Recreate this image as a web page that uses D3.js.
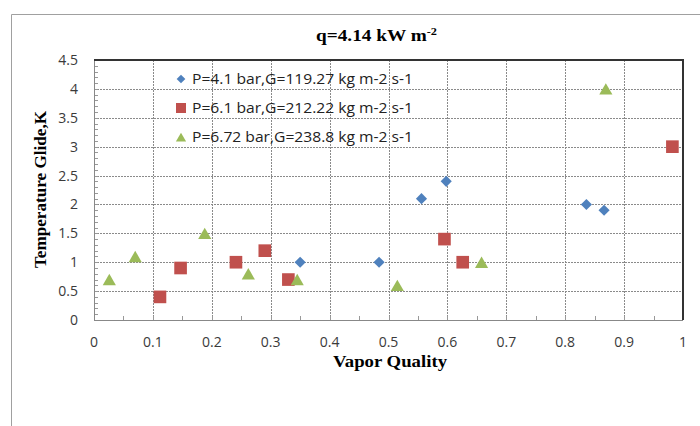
<!DOCTYPE html>
<meta charset="utf-8">
<html>
<head>
<script src="https://cdnjs.cloudflare.com/ajax/libs/d3/7.8.5/d3.min.js"></script>
<style>
  body { margin: 0; background: #fff; }
  text { font-family: "Open Sans", "Liberation Sans", sans-serif; }
  .serif { font-family: "Liberation Serif", "DejaVu Serif", serif; font-weight: bold; }
</style>
</head>
<body>
<div id="chart"></div>
<script>
// series data
var seriesNames = ["P=4.1 bar,G=119.27 kg m-2 s-1", "P=6.1 bar,G=212.22 kg m-2 s-1", "P=6.72 bar,G=238.8 kg m-2 s-1"];
var blueX = [0.35, 0.484, 0.556, 0.598, 0.836, 0.866];
var blueY = [1.0, 1.0, 2.1, 2.4, 2.0, 1.9];
var redX = [0.112, 0.147, 0.241, 0.290, 0.330, 0.595, 0.626, 0.982];
var redY = [0.4, 0.9, 1.0, 1.2, 0.7, 1.4, 1.0, 3.0];
var greenX = [0.026, 0.070, 0.188, 0.262, 0.345, 0.515, 0.658, 0.869];
var greenY = [0.7, 1.1, 1.5, 0.8, 0.7, 0.6, 1.0, 4.0];
var xTicks = [0, 0.1, 0.2, 0.3, 0.4, 0.5, 0.6, 0.7, 0.8, 0.9, 1];
var yTicks = [0, 0.5, 1, 1.5, 2, 2.5, 3, 3.5, 4, 4.5];

var colors = ["#4f81bd", "#c0504d", "#9bbb59"];
// diamond is a square turned 45 degrees, like the excel marker
var shapes = [d3.symbolSquare, d3.symbolSquare, d3.symbolTriangle];
var turns = [45, 0, 0];
var sizes = [62, 160, 75];
var legendSizes = [38, 100, 45];
// d3 triangles sit on their centroid, excel centres the box
var nudge = [0, 0, 1.9];

var width = 700, height = 426;
var margin = {left: 94, right: 17, top: 60, bottom: 106};

var svg = d3.select("#chart").append("svg")
  .attr("width", width).attr("height", height);

// outer chart frame
svg.append("path")
  .attr("d", "M11.5," + height + "V14.5H" + width)
  .attr("fill", "none").attr("stroke", "#a0a0a0").attr("stroke-width", 1);

var x = d3.scaleLinear().domain([0, 1]).range([margin.left, width - margin.right]);
var y = d3.scaleLinear().domain([0, 4.5]).range([height - margin.bottom, margin.top]);

var x0 = x(0), x1 = x(1), y0 = y(0), y1 = y(4.5);

// grid
svg.append("g").selectAll("line").data(xTicks.slice(1, -1)).enter().append("line")
  .attr("x1", function(d){ return Math.round(x(d)) + 0.5; })
  .attr("x2", function(d){ return Math.round(x(d)) + 0.5; })
  .attr("y1", y1).attr("y2", y0)
  .attr("stroke", "#8a8a8a").attr("stroke-dasharray", "2,1");
svg.append("g").selectAll("line").data(yTicks.slice(1, -1)).enter().append("line")
  .attr("y1", function(d){ return Math.round(y(d)) + 0.5; })
  .attr("y2", function(d){ return Math.round(y(d)) + 0.5; })
  .attr("x1", x0).attr("x2", x1)
  .attr("stroke", "#8a8a8a").attr("stroke-dasharray", "2,1");

// minor ticks
svg.append("g").selectAll("line").data(d3.range(1, 45)).enter().append("line")
  .attr("x1", x0).attr("x2", x0 + 4)
  .attr("y1", function(d){ return Math.round(y(d / 10)) + 0.5; })
  .attr("y2", function(d){ return Math.round(y(d / 10)) + 0.5; })
  .attr("stroke", "#999");
svg.append("g").selectAll("line").data(d3.range(1, 20)).enter().append("line")
  .attr("y1", y0).attr("y2", y0 - 4)
  .attr("x1", function(d){ return Math.round(x(d / 20)) + 0.5; })
  .attr("x2", function(d){ return Math.round(x(d / 20)) + 0.5; })
  .attr("stroke", "#999");

// axis lines and plot border
svg.append("line").attr("x1", x0).attr("x2", x1).attr("y1", Math.round(y0) + 0.5).attr("y2", Math.round(y0) + 0.5).attr("stroke", "#888");
svg.append("line").attr("x1", Math.round(x0) + 0.5).attr("x2", Math.round(x0) + 0.5).attr("y1", y1).attr("y2", y0).attr("stroke", "#888");
svg.append("line").attr("x1", x0).attr("x2", x1 + 1).attr("y1", Math.round(y1)).attr("y2", Math.round(y1)).attr("stroke", "#333").attr("stroke-width", 2);
svg.append("line").attr("x1", Math.round(x1)).attr("x2", Math.round(x1)).attr("y1", y1).attr("y2", y0).attr("stroke", "#333").attr("stroke-width", 2);

// tick labels
svg.append("g").selectAll("text").data(yTicks).enter().append("text")
  .attr("x", 78).attr("y", function(d){ return y(d); }).attr("dy", "0.36em")
  .attr("text-anchor", "end").attr("font-size", 14).attr("fill", "#3a3a3a")
  .text(function(d){ return d; });
svg.append("g").selectAll("text").data(xTicks).enter().append("text")
  .attr("x", function(d){ return x(d); }).attr("y", 347)
  .attr("text-anchor", "middle").attr("font-size", 14).attr("fill", "#3a3a3a")
  .text(function(d){ return d; });

// titles
var title = svg.append("text").attr("class", "serif").attr("x", 316).attr("y", 41)
  .attr("font-size", 16.5).attr("textLength", 121).attr("lengthAdjust", "spacingAndGlyphs");
title.append("tspan").text("q=4.14 kW m");
title.append("tspan").attr("dy", -6).attr("font-size", 10.5).text("-2");

svg.append("text").attr("class", "serif").attr("x", 333).attr("y", 367)
  .attr("font-size", 16.5).attr("textLength", 114).attr("lengthAdjust", "spacingAndGlyphs")
  .text("Vapor Quality");
svg.append("text").attr("class", "serif").attr("transform", "translate(46,268) rotate(-90)")
  .attr("font-size", 16.5).attr("textLength", 157).attr("lengthAdjust", "spacingAndGlyphs")
  .text("Temperature Glide,K");

// points
var allX = [blueX, redX, greenX], allY = [blueY, redY, greenY];
allX.forEach(function(xs, i){
  svg.append("g").selectAll("path").data(xs).enter().append("path")
    .attr("transform", function(d, j){ return "translate(" + x(d) + "," + (y(allY[i][j]) + nudge[i]) + ") rotate(" + turns[i] + ")"; })
    .attr("d", d3.symbol().type(shapes[i]).size(sizes[i]))
    .attr("fill", colors[i]);
});

// legend
var legend = svg.append("g").selectAll("g").data(seriesNames).enter().append("g")
  .attr("transform", function(d, i){ return "translate(181," + (79 + i * 29) + ")"; });
legend.append("path")
  .attr("transform", function(d, i){ return "translate(0," + nudge[i] * 0.8 + ") rotate(" + turns[i] + ")"; })
  .attr("d", function(d, i){ return d3.symbol().type(shapes[i]).size(legendSizes[i])(); })
  .attr("fill", function(d, i){ return colors[i]; });
legend.append("text").attr("x", 11).attr("dy", "0.36em").attr("font-size", 14).attr("fill", "#222")
  .attr("textLength", 221).attr("lengthAdjust", "spacingAndGlyphs")
  .text(function(d){ return d; });
</script>
</body>
</html>
